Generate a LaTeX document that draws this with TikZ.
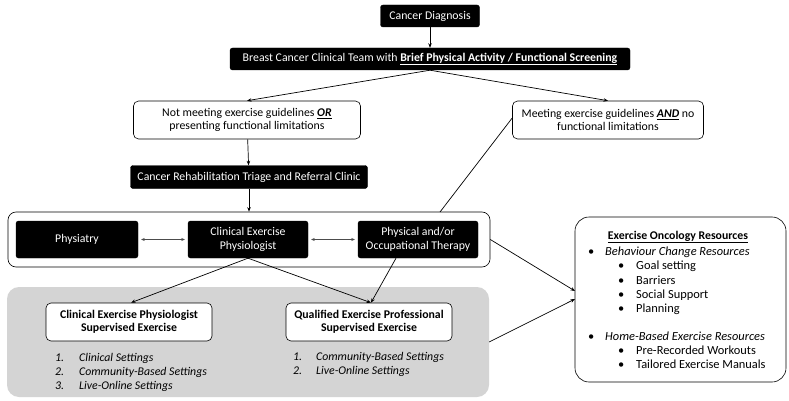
\documentclass[tikz,border=0pt]{standalone}
\usepackage{fontspec}
\setmainfont{Carlito}
\usetikzlibrary{arrows.meta,calc}
\begin{document}
\begin{tikzpicture}[x=1pt,y=-1pt,
  every node/.style={font=\fontsize{11.8}{13.5}\selectfont, inner sep=2pt},
  blk/.style={draw=black, fill=black, text=white, rounded corners=2.5pt, align=center},
  wht/.style={draw=black, fill=white, rounded corners=5pt, align=center, line width=0.6pt},
  arr/.style={-{Stealth[length=4.5pt,width=3.5pt]}, line width=0.7pt},
  darr/.style={{Stealth[length=3.5pt,width=3pt]}-{Stealth[length=3.5pt,width=3pt]}, line width=0.4pt, draw=black!70},
  plain/.style={line width=0.7pt},
  lst/.style={anchor=north west, align=left, font=\fontsize{11.8}{14}\selectfont\itshape}
]
\useasboundingbox (0,0) rectangle (789,401);
\fill[white] (0,0) rectangle (789,401);

% containers
\node[draw=black, line width=0.6pt, rounded corners=8pt, minimum width=482pt, minimum height=55pt, inner sep=0pt] (grp) at (249,239.5) {};
\node[fill=black!17, rounded corners=12pt, minimum width=482pt, minimum height=110pt, inner sep=0pt] (gray) at (248,342) {};
\node[draw=black, line width=0.6pt, rounded corners=14pt, minimum width=211pt, minimum height=165pt, inner sep=0pt] (res) at (680.5,299.5) {};

% top flow
\node[blk, minimum width=99pt, minimum height=22pt] (cd) at (430,16) {Cancer Diagnosis};
\node[blk, minimum width=400pt, minimum height=22pt] (bct) at (430,59) {Breast Cancer Clinical Team with \underline{\textbf{Brief Physical Activity / Functional Screening}}};
\node[wht, minimum width=227pt, minimum height=38pt] (nm) at (247,120) {Not meeting exercise guidelines \underline{\textbf{\textit{OR}}}\\presenting functional limitations};
\node[wht, minimum width=191pt, minimum height=38pt] (mt) at (608,120) {Meeting exercise guidelines \underline{\textbf{\textit{AND}}} no\\functional limitations};
\node[blk, minimum width=237pt, minimum height=23pt] (tr) at (249,177) {Cancer Rehabilitation Triage and Referral Clinic};

% clinic group
\node[blk, minimum width=122pt, minimum height=37pt] (ph) at (77,239.5) {Physiatry};
\node[blk, minimum width=120pt, minimum height=37pt] (cep) at (248,239.5) {Clinical Exercise\\Physiologist};
\node[blk, minimum width=120pt, minimum height=37pt] (pt) at (418,239.5) {Physical and/or\\Occupational Therapy};

% supervised
\node[wht, minimum width=166pt, minimum height=38pt, font=\fontsize{11.8}{13.5}\selectfont\bfseries] (ceps) at (129,322) {Clinical Exercise Physiologist\\Supervised Exercise};
\node[wht, minimum width=166pt, minimum height=38pt, font=\fontsize{11.8}{13.5}\selectfont\bfseries] (qeps) at (369,322) {Qualified Exercise Professional\\Supervised Exercise};

\node[lst] (l1) at (53,351) {\makebox[24pt][l]{1.}Clinical Settings\\\makebox[24pt][l]{2.}Community-Based Settings\\\makebox[24pt][l]{3.}Live-Online Settings};
\node[lst] (l2) at (291,350) {\makebox[23pt][l]{1.}Community-Based Settings\\\makebox[23pt][l]{2.}Live-Online Settings};

% resources text
\node[font=\fontsize{11.8}{13.5}\selectfont\bfseries] (rh) at (678,237) {\underline{Exercise Oncology Resources}};
\node[anchor=north west, align=left, font=\fontsize{12.4}{14.1}\selectfont] (rl) at (586,245) {%
\makebox[17pt][l]{\textbullet}\textit{Behaviour Change Resources}\\
\hspace*{30pt}\makebox[18pt][l]{\textbullet}Goal setting\\
\hspace*{30pt}\makebox[18pt][l]{\textbullet}Barriers\\
\hspace*{30pt}\makebox[18pt][l]{\textbullet}Social Support\\
\hspace*{30pt}\makebox[18pt][l]{\textbullet}Planning\\
\mbox{}\\
\makebox[17pt][l]{\textbullet}\textit{Home-Based Exercise Resources}\\
\hspace*{30pt}\makebox[18pt][l]{\textbullet}Pre-Recorded Workouts\\
\hspace*{30pt}\makebox[18pt][l]{\textbullet}Tailored Exercise Manuals};

% connectors
\coordinate (gtop) at (440,212);
\coordinate (r1) at (575,291);
\coordinate (r2) at (575,299);
\draw[arr] (cd) -- (bct);
\draw[arr] (bct.south) -- (nm.north);
\draw[arr] (bct.south) -- (mt.north);
\draw[arr] (nm) -- (tr);
\draw[arr] (tr.south) -- (grp.north);
\draw[plain] ([yshift=2pt]mt.west) -- (gtop);
\draw[darr, shorten <=3pt, shorten >=3pt] (ph) -- (cep);
\draw[darr, shorten <=3pt, shorten >=3pt] (cep) -- (pt);
\draw[arr] (cep.south) -- ([xshift=2pt]ceps.north);
\draw[arr] (cep.south) -- ([xshift=2pt]qeps.north);
\draw[arr] ([xshift=-22pt]pt.south) -- ([xshift=2pt]qeps.north);
\draw[arr] (grp.east) -- (r1);
\draw[arr] (gray.east) -- (r2);
\end{tikzpicture}
\end{document}
